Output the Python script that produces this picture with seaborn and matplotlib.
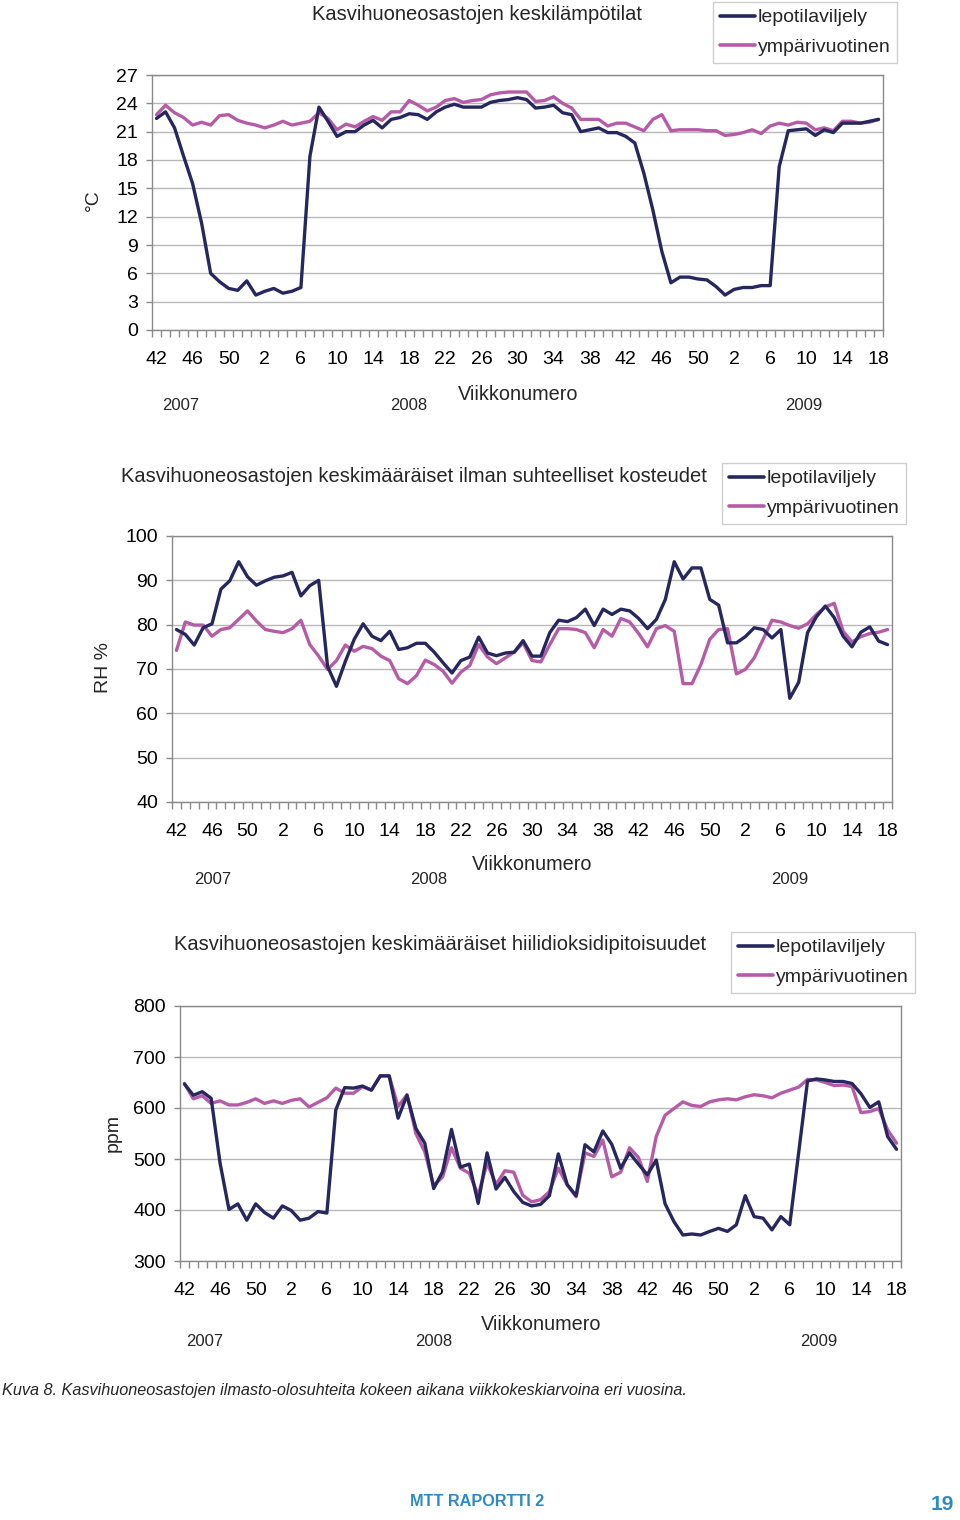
import numpy as np
import pandas as pd
import matplotlib
matplotlib.use("Agg")
import matplotlib.pyplot as plt
from matplotlib.lines import Line2D
import seaborn as sns

# ---------------- data ----------------
series_names = ["lepotilaviljely", "ympärivuotinen"]
tick_labels = ["42", "46", "50", "2", "6", "10", "14", "18", "22", "26", "30",
               "34", "38", "42", "46", "50", "2", "6", "10", "14", "18"]
year_labels = ["2007", "2008", "2009"]

temp_lepo = [22.4, 23.1, 21.4, 18.4, 15.5, 11.3, 6.0, 5.1, 4.4, 4.2, 5.2, 3.7, 4.1, 4.4, 3.9, 4.1, 4.5,
             18.4, 23.6, 22.1, 20.5, 21.0, 21.0, 21.7, 22.2, 21.4, 22.3, 22.5, 22.9, 22.8, 22.3, 23.1,
             23.6, 23.9, 23.6, 23.6, 23.6, 24.1, 24.3, 24.4, 24.6,
             24.4, 23.5, 23.6, 23.8, 23.0, 22.8, 21.0, 21.2, 21.4, 20.9, 20.9, 20.5, 19.8, 16.6, 12.7,
             8.3, 5.0, 5.6, 5.6, 5.4, 5.3, 4.6, 3.7, 4.3, 4.5, 4.5, 4.7, 4.7, 17.3, 21.1, 21.2, 21.3,
             20.6, 21.2, 20.9, 21.9, 21.9, 21.9, 22.1, 22.3]
temp_ymp = [22.8, 23.8, 23.0, 22.5, 21.7, 22.0, 21.7, 22.7, 22.8, 22.2, 21.9, 21.7, 21.4, 21.7, 22.1,
            21.7, 21.9, 22.1, 23.0, 22.4, 21.2, 21.8, 21.5, 22.1, 22.6, 22.2, 23.1, 23.1, 24.3, 23.8,
            23.2, 23.6, 24.3, 24.5, 24.1, 24.3, 24.4, 24.9, 25.1, 25.2, 25.2,
            25.2, 24.2, 24.3, 24.7, 24.0, 23.5, 22.3, 22.3, 22.3, 21.6, 21.9, 21.9, 21.5, 21.1, 22.3,
            22.8, 21.1, 21.2, 21.2, 21.2, 21.1, 21.1, 20.6, 20.7, 20.9, 21.2, 20.8, 21.6, 21.9, 21.7,
            22.0, 21.9, 21.2, 21.4, 21.1, 22.1, 22.1, 21.9, 22.0, 22.3]

rh_lepo = [78.9, 77.8, 75.4, 79.3, 80.2, 88.0, 89.9, 94.2, 90.8, 88.9, 89.9, 90.7, 91.0, 91.8, 86.5,
           88.8, 90.0, 70.6, 66.1, 71.7, 76.7, 80.2, 77.4, 76.4, 78.5, 74.4, 74.8, 75.8, 75.8, 73.8,
           71.4, 69.1, 71.9, 72.7, 77.2, 73.6, 73.0, 73.6, 73.8,
           76.4, 72.9, 72.9, 78.2, 81.0, 80.7, 81.6, 83.5, 79.8, 83.5, 82.3, 83.5, 83.1, 81.4, 79.1,
           81.2, 85.7, 94.2, 90.3, 92.8, 92.8, 85.7, 84.4, 75.9, 75.9, 77.3, 79.3, 78.9, 77.0, 78.9,
           63.4, 67.0, 78.2, 81.8, 84.2, 81.6, 77.4, 75.0, 78.3, 79.5, 76.3, 75.5]
rh_ymp = [74.2, 80.6, 79.9, 79.9, 77.4, 78.9, 79.3, 81.2, 83.1, 80.8, 78.9, 78.5, 78.2, 79.1, 81.0,
          75.5, 72.9, 69.9, 71.9, 75.4, 74.0, 75.1, 74.6, 72.9, 71.9, 67.8, 66.7, 68.5, 72.0, 71.0,
          69.5, 66.8, 69.3, 70.8, 75.5, 72.7, 71.2, 72.5, 73.8,
          75.9, 71.9, 71.6, 75.5, 79.1, 79.1, 78.9, 78.2, 74.8, 78.9, 77.4, 81.4, 80.6, 78.0, 75.0,
          79.1, 79.8, 78.5, 66.7, 66.7, 71.0, 76.7, 78.9, 79.1, 68.9, 69.9, 72.5, 76.7, 81.0, 80.6,
          79.8, 79.2, 80.2, 82.3, 84.0, 84.8, 78.5, 76.1, 77.3, 78.0, 78.3, 78.9]

co2_lepo = [647, 625, 632, 619, 492, 401, 412, 380, 412, 395, 384, 408, 399, 380, 384, 397, 394,
            596, 640, 639, 643, 635, 663, 663, 580, 625, 560, 531, 442, 475, 558, 484, 490, 413,
            512, 441, 464, 436, 415, 408, 411,
            428, 510, 450, 428, 528, 514, 555, 529, 482, 512, 490, 469, 498, 412, 377, 351, 353,
            351, 358, 364, 358, 371, 428, 387, 384, 361, 387, 371, 512, 653, 657, 655, 652, 652,
            648, 628, 601, 612, 544, 519]
co2_ymp = [648, 618, 624, 609, 614, 606, 606, 611, 618, 609, 614, 609, 615, 618, 602, 611, 620,
           639, 629, 629, 642, 635, 663, 663, 603, 626, 550, 514, 448, 465, 522, 482, 472, 429,
           492, 450, 477, 474, 429, 416, 420,
           436, 482, 449, 426, 512, 505, 537, 465, 474, 522, 503, 456, 544, 586, 599, 612, 605,
           603, 612, 616, 618, 616, 622, 626, 624, 620, 629, 635, 641, 656, 655, 650, 644, 645,
           642, 591, 593, 599, 557, 531]

# ---------------- style ----------------
NAVY = "#27275f"
PINK = "#b65ca6"
W, H = 960, 1520

sns.set_theme(style="white")
plt.rcParams['font.family'] = ['Liberation Sans', 'DejaVu Sans']

fig = plt.figure(figsize=(W / 100, H / 100), dpi=100)


def fx(x):
    return x / W


def fy(y):
    return 1 - y / H


def panel(rect_px, lepo, ymp, ylim, ystep, title, title_xy, leg_xy, ylabel, ylabel_xy,
          vk_xy, years_px, year_y):
    l, t, r, b = rect_px
    ax = fig.add_axes([fx(l), fy(b), (r - l) / W, (b - t) / H])
    n = len(lepo)
    df = pd.DataFrame({
        "idx": list(range(n)) * 2,
        "value": list(lepo) + list(ymp),
        "series": [series_names[0]] * n + [series_names[1]] * n,
    })
    sns.lineplot(data=df, x="idx", y="value", hue="series",
                 palette={series_names[0]: NAVY, series_names[1]: PINK},
                 hue_order=[series_names[1], series_names[0]],
                 linewidth=2.4, legend=False, ax=ax)
    ax.set_xlim(-0.5, n - 0.5)
    ax.set_ylim(*ylim)
    ax.set_yticks(np.arange(ylim[0], ylim[1] + 0.01, ystep))
    ax.set_xticks(np.arange(0, n, 4))
    ax.set_xticklabels(tick_labels)
    ax.set_xticks(np.arange(-0.5, n, 1), minor=True)
    ax.set_xlabel("")
    ax.set_ylabel("")
    ax.yaxis.grid(True, color="#b8b8b8", linewidth=1.0)
    ax.xaxis.grid(False)
    for s in ax.spines.values():
        s.set_color("#8a8a8a")
        s.set_linewidth(1.0)
    ax.tick_params(axis="y", which="major", direction="out", length=4, width=1,
                   color="#8a8a8a", labelsize=14, pad=6, labelcolor="black", left=True)
    ax.tick_params(axis="x", which="major", length=0, labelsize=14, pad=15, labelcolor="black")
    ax.tick_params(axis="x", which="minor", direction="out", length=5, width=1,
                   color="#8a8a8a", bottom=True)
    fig.text(fx(title_xy[0]), fy(title_xy[1]), title, ha="center", va="center", fontsize=14.5)
    fig.text(fx(ylabel_xy[0]), fy(ylabel_xy[1]), ylabel, ha="center", va="center",
             rotation=90, fontsize=14)
    fig.text(fx(vk_xy[0]), fy(vk_xy[1]), "Viikkonumero", ha="center", va="center", fontsize=14.3)
    for yl, xx in zip(year_labels, years_px):
        fig.text(fx(xx), fy(year_y), yl, ha="center", va="center", fontsize=12)
    handles = [Line2D([], [], color=NAVY, lw=2.6), Line2D([], [], color=PINK, lw=2.6)]
    leg = fig.legend(handles, series_names, loc="upper left",
                     bbox_to_anchor=(fx(leg_xy[0]), fy(leg_xy[1])),
                     frameon=True, fancybox=False, edgecolor="#c4c4c4", fontsize=14,
                     handlelength=1.8, handletextpad=0.15, labelspacing=0.62,
                     borderpad=0.35, borderaxespad=0)
    leg.get_frame().set_linewidth(1.0)
    return ax


panel((152, 75, 883, 330), temp_lepo, temp_ymp, (0, 27), 3,
      "Kasvihuoneosastojen keskilämpötilat", (477, 15), (713, 2), "°C", (93, 200),
      (518, 394), (181, 409, 804), 405)

panel((172, 536, 892, 802), rh_lepo, rh_ymp, (40, 100), 10,
      "Kasvihuoneosastojen keskimääräiset ilman suhteelliset kosteudet", (414, 476),
      (722, 463), "RH %", (103, 668), (532, 865), (213, 429, 790), 880)

panel((180, 1006, 901, 1261), co2_lepo, co2_ymp, (300, 800), 100,
      "Kasvihuoneosastojen keskimääräiset hiilidioksidipitoisuudet", (440, 945),
      (731, 932), "ppm", (113, 1133), (541, 1324), (205, 434, 819), 1341)

fig.text(fx(2), fy(1391),
         "Kuva 8. Kasvihuoneosastojen ilmasto-olosuhteita kokeen aikana viikkokeskiarvoina eri vuosina.",
         ha="left", va="center", fontsize=11.7, style="italic")
fig.text(fx(477), fy(1502), "MTT RAPORTTI 2", ha="center", va="center", fontsize=11.7,
         fontweight="bold", color="#2f8ac2")
fig.text(fx(942), fy(1505), "19", ha="center", va="center", fontsize=15,
         fontweight="bold", color="#2f8ac2")

fig.savefig("out.png", dpi=100, facecolor="white")
